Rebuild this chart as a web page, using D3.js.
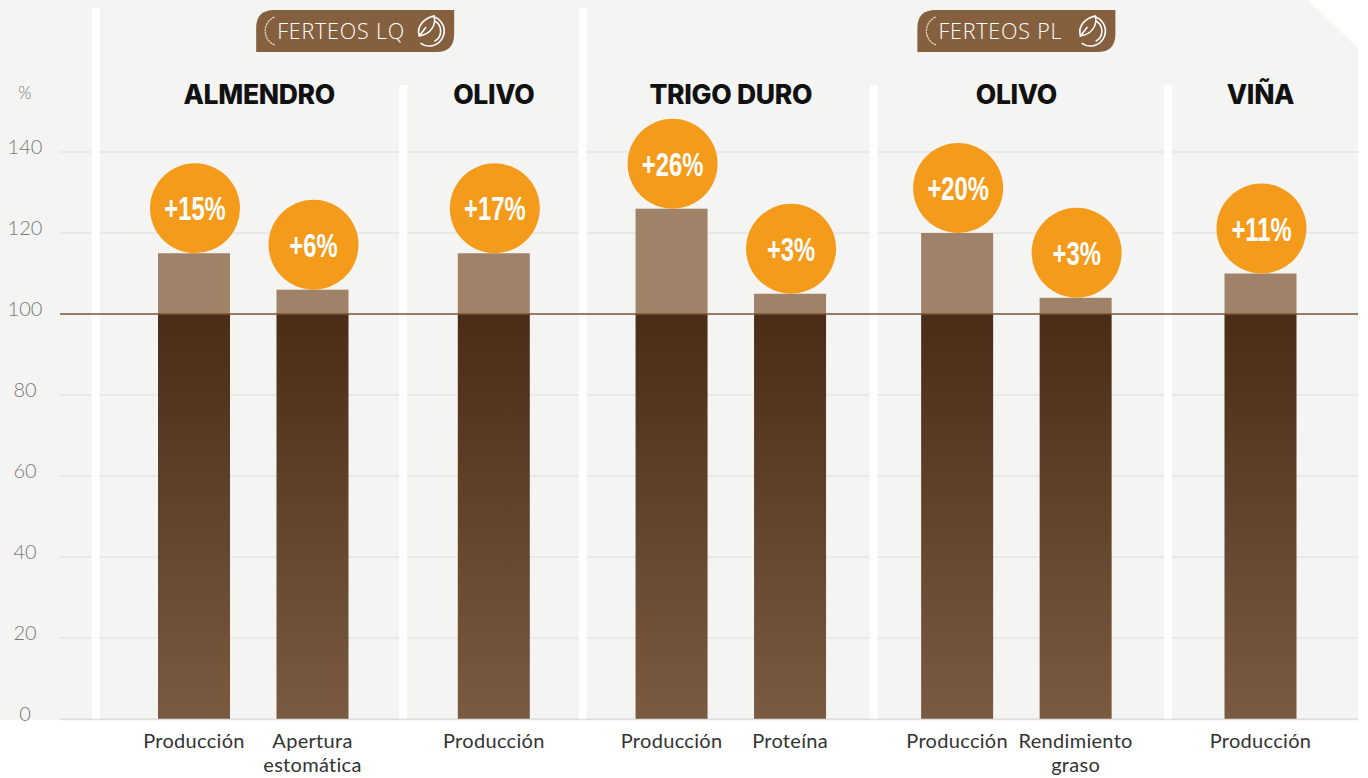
<!DOCTYPE html>
<html>
<head>
<meta charset="utf-8">
<script src="https://cdn.jsdelivr.net/npm/d3@7/dist/d3.min.js"></script>
<style>
  html, body { margin: 0; padding: 0; background: #ffffff; }
  svg { display: block; }
</style>
</head>
<body>
<div id="chart"></div>
<script>
// data
const products = ["FERTEOS LQ", "FERTEOS PL"];
const crops = ["ALMENDRO", "OLIVO", "TRIGO DURO", "OLIVO", "VIÑA"];
const cropProduct = [0, 0, 1, 1, 1];
const barCrop = [0, 0, 1, 2, 2, 3, 3, 4];
const barLabels = ["Producción", "Apertura\nestomática", "Producción", "Producción",
                   "Proteína", "Producción", "Rendimiento\ngraso", "Producción"];
const values = [115, 106, 115, 126, 105, 120, 104, 110];
const gains = ["+15%", "+6%", "+17%", "+26%", "+3%", "+20%", "+3%", "+11%"];
const yTicks = [0, 20, 40, 60, 80, 100, 120, 140];
const baseline = 100;

const W = 1368, H = 778;
const panelRight = 1358, panelBottom = 720;

const svg = d3.select("#chart").append("svg")
    .attr("width", W).attr("height", H);

// slot index: one step between bars of a crop, extra gap between crops
const cropShift = [0, 0.53, 1.03, 1.44, 2.0];
const slot = i => i + cropShift[barCrop[i]];
const x = d3.scaleLinear().domain([0, 9]).range([194, 1260.5]);
const y = d3.scaleLinear().domain([0, 140]).range([719, 152]);
const barW = 72;

const defs = svg.append("defs");
const grad = defs.append("linearGradient")
    .attr("id", "dark").attr("gradientUnits", "userSpaceOnUse")
    .attr("x1", 0).attr("x2", 0).attr("y1", y(baseline)).attr("y2", y(0));
grad.append("stop").attr("offset", 0).attr("stop-color", "#4a2c17");
grad.append("stop").attr("offset", 1).attr("stop-color", "#7a5b41");

// grey panel with cut corner
svg.append("path")
    .attr("d", `M0,0 H1308 L${panelRight},48 V${panelBottom} H0 Z`)
    .attr("fill", "#f4f4f2");

// grid
svg.append("g").selectAll("line")
    .data(yTicks.filter(t => t !== baseline))
    .join("line")
    .attr("x1", 60).attr("x2", panelRight)
    .attr("y1", d => y(d)).attr("y2", d => y(d))
    .attr("stroke", "#dcdcda").attr("stroke-width", 1.2);

svg.append("g").selectAll("text")
    .data(yTicks)
    .join("text")
    .attr("x", 25).attr("y", d => y(d) + 2)
    .attr("text-anchor", "middle")
    .attr("font-family", "Lato, sans-serif")
    .attr("font-weight", 300)
    .attr("font-size", 20)
    .attr("fill", "#7a7a7a")
    .text(d => d);

svg.append("text")
    .attr("x", 25).attr("y", 99)
    .attr("text-anchor", "middle")
    .attr("font-family", "Lato, sans-serif")
    .attr("font-weight", 300)
    .attr("font-size", 17)
    .attr("fill", "#7a7a7a")
    .text("%");

// white separators
const seps = [{ x: x(-0.83), big: true }];
for (let i = 1; i < values.length; i++) {
  if (barCrop[i] !== barCrop[i - 1]) {
    const big = cropProduct[barCrop[i]] !== cropProduct[barCrop[i - 1]];
    seps.push({ x: (x(slot(i)) + x(slot(i - 1))) / 2, big: big });
  }
}
svg.append("g").selectAll("rect")
    .data(seps)
    .join("rect")
    .attr("x", d => d.x - 4).attr("width", 8)
    .attr("y", d => d.big ? 8 : 85)
    .attr("height", d => panelBottom - (d.big ? 8 : 85))
    .attr("fill", "#ffffff");

// bars: upper part above 100
svg.append("g").selectAll("rect")
    .data(values)
    .join("rect")
    .attr("x", (d, i) => x(slot(i)) - barW / 2)
    .attr("width", barW)
    .attr("y", d => y(d))
    .attr("height", d => y(baseline) - y(d))
    .attr("fill", "#a08268");

// bars: base part 0-100
svg.append("g").selectAll("rect")
    .data(values)
    .join("rect")
    .attr("x", (d, i) => x(slot(i)) - barW / 2)
    .attr("width", barW)
    .attr("y", y(baseline))
    .attr("height", y(0) - y(baseline))
    .attr("fill", "url(#dark)");

// baseline at 100
svg.append("line")
    .attr("x1", 60).attr("x2", panelRight)
    .attr("y1", y(baseline)).attr("y2", y(baseline))
    .attr("stroke", "#7d5537").attr("stroke-width", 1.5);

// bottom line
svg.append("line")
    .attr("x1", 60).attr("x2", panelRight)
    .attr("y1", y(0) + 0.5).attr("y2", y(0) + 0.5)
    .attr("stroke", "#dedede").attr("stroke-width", 1.5);

// gain bubbles
const r = 45;
const bub = svg.append("g").selectAll("g")
    .data(values)
    .join("g")
    .attr("transform", (d, i) => `translate(${x(slot(i)) + 1},${y(d) - r})`);
bub.append("circle").attr("r", r).attr("fill", "#f59b1c");
bub.append("text")
    .attr("text-anchor", "middle")
    .attr("transform", "scale(0.7,1)")
    .attr("dy", 12)
    .attr("font-family", "'Liberation Sans', Arial, sans-serif")
    .attr("font-weight", 700)
    .attr("font-size", 34)
    .attr("fill", "#ffffff")
    .text((d, i) => gains[i]);

// crop headers
const cropCenters = crops.map((c, k) => {
  const idx = values.map((d, i) => i).filter(i => barCrop[i] === k);
  return d3.mean(idx, i => x(slot(i)));
});
svg.append("g").selectAll("text")
    .data(crops)
    .join("text")
    .attr("x", (d, k) => cropCenters[k] + (k === 0 ? 6 : 0))
    .attr("y", 104)
    .attr("text-anchor", "middle")
    .attr("font-family", "Inter, sans-serif")
    .attr("font-weight", 800)
    .attr("font-size", 26.5)
    .attr("letter-spacing", -0.3)
    .attr("fill", "#111111")
    .text(d => d);

// category labels, one text per line
const catLines = barLabels.flatMap((d, i) =>
    d.split("\n").map((t, j) => ({ t: t, i: i, j: j })));
svg.append("g").selectAll("text")
    .data(catLines)
    .join("text")
    .attr("x", d => x(slot(d.i)))
    .attr("y", d => 748 + d.j * 24)
    .attr("text-anchor", "middle")
    .attr("font-family", "Lato, sans-serif")
    .attr("font-size", 20)
    .attr("letter-spacing", 0.3)
    .attr("fill", "#333333")
    .text(d => d.t);

// product badges
const badgeCenter = [x(1.36), x(6.94)];
const bw = 198, bh = 42, br = 18;
const badge = svg.append("g").selectAll("g")
    .data(products)
    .join("g")
    .attr("transform", (d, k) => `translate(${badgeCenter[k] - bw / 2},10)`);
badge.append("path")
    .attr("d", `M${br},0 H${bw} V${bh - br} Q${bw},${bh} ${bw - br},${bh} H0 V${br} Q0,0 ${br},0 Z`)
    .attr("fill", "#85603f");
badge.append("path")
    .attr("d", d3.arc()({ innerRadius: 15, outerRadius: 15, startAngle: -Math.PI * 0.88, endAngle: -Math.PI * 0.12 }))
    .attr("transform", `translate(${24},${bh / 2})`)
    .attr("fill", "none")
    .attr("stroke", "#e8dccd")
    .attr("stroke-width", 1.2)
    .attr("stroke-dasharray", "1.5,1.5");
badge.append("text")
    .attr("x", 21).attr("y", bh / 2 + 8)
    .attr("font-family", "'Open Sans', sans-serif")
    .attr("font-weight", 300)
    .attr("font-size", 21.5)
    .attr("letter-spacing", 0.8)
    .attr("fill", "#ffffff")
    .text(d => d);
// leaf-in-circle icon
const icon = badge.append("g")
    .attr("transform", `translate(${bw - 25},${bh / 2})`)
    .attr("fill", "none").attr("stroke", "#ffffff").attr("stroke-width", 1.6);
icon.append("path")
    .attr("d", d3.arc()({ innerRadius: 15, outerRadius: 15, startAngle: Math.PI * 0.05, endAngle: Math.PI * 1.2 }));
icon.append("path")
    .attr("d", d3.arc()({ innerRadius: 11.5, outerRadius: 11.5, startAngle: Math.PI * 0.15, endAngle: Math.PI * 0.85 }));
icon.append("path")
    .attr("d", "M-10,5 C-13,-6 -4,-13 5,-15 C7,-6 2,3 -10,5 Z M-10,5 L-3,-4");
</script>
</body>
</html>
